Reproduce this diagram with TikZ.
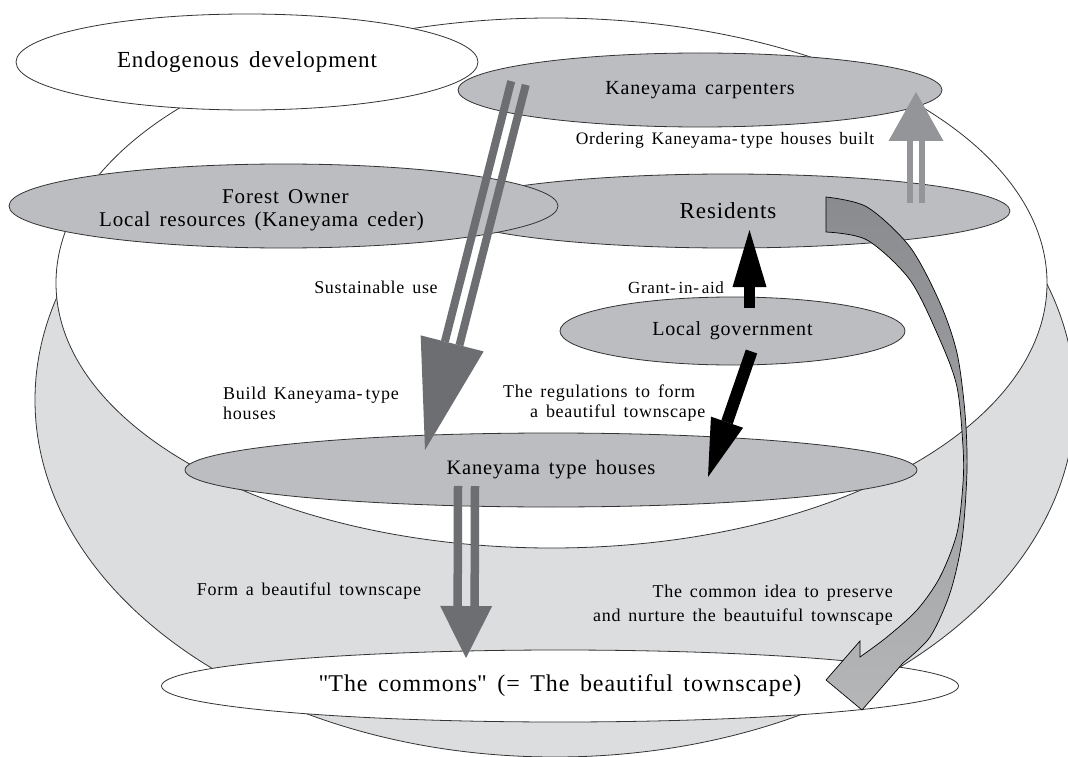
\documentclass[tikz,border=0pt]{standalone}
\usepackage{fontspec}
\setmainfont{Liberation Serif}[LetterSpace=4,WordSpace=1.5]
\usetikzlibrary{calc,shapes.geometric}
\definecolor{ellgray}{RGB}{188,189,192}
\definecolor{blobgray}{RGB}{220,221,223}
\definecolor{stripe}{RGB}{109,110,113}
\definecolor{stripelt}{RGB}{147,149,152}
\definecolor{curvtop}{RGB}{138,139,142}
\definecolor{curvbot}{RGB}{181,182,184}
% double-stripe arrow: start, tip, head length, half head width, half stripe separation, stripe width, colour
\newcommand\dblarrow[7]{%
  \coordinate (#1-base) at ($(#2)!#3!(#1)$);
  \draw[#7, line width=#6] ($(#1)!#5!90:(#2)$) -- ($(#1-base)!#5!90:(#2)$);
  \draw[#7, line width=#6] ($(#1)!#5!-90:(#2)$) -- ($(#1-base)!#5!-90:(#2)$);
  \fill[#7] ($(#1-base)!#4!90:(#2)$) -- (#2) -- ($(#1-base)!#4!-90:(#2)$) -- cycle;
}
% solid arrow: start, tip, head length, half head width, shaft width, colour
\newcommand\solidarrow[6]{%
  \coordinate (#1-base) at ($(#2)!#3!(#1)$);
  \draw[#6, line width=#5] (#1) -- (#1-base);
  \fill[#6] ($(#1-base)!#4!90:(#2)$) -- (#2) -- ($(#1-base)!#4!-90:(#2)$) -- cycle;
}
% straight double quote, bypassing the TeX ligature mapping
\newcommand\sq{\XeTeXglyph\XeTeXcharglyph"22\relax}
\tikzset{
  outl/.style={draw=black!80, line width=0.8pt},
  ell/.style={ellipse, outl, inner sep=0pt},
  grayell/.style={ell, fill=ellgray},
  whiteell/.style={ell, fill=white},
  lbl/.style={inner sep=0pt, font=\fontsize{18}{22}\selectfont},
}
\begin{document}
\begin{tikzpicture}[x=1pt,y=-1pt]
\useasboundingbox (0,0) rectangle (1068,757);
\clip (0,0) rectangle (1068,757);

% background shapes
\node[ell, fill=blobgray, minimum width=1040pt, minimum height=714pt] (blob) at (555,400) {};
\node[whiteell, minimum width=991pt, minimum height=530pt] (big) at (551.5,283) {};

% ellipses
\node[whiteell, minimum width=462pt, minimum height=96pt, font=\fontsize{23}{27}\selectfont] (endo) at (247,62) {Endogenous development};
\node[grayell, minimum width=484pt, minimum height=74pt, font=\fontsize{20}{24}\selectfont] (carp) at (700,90) {Kaneyama carpenters};
\node[grayell, minimum width=564pt, minimum height=74pt, font=\fontsize{23}{27}\selectfont] (res) at (728,211) {Residents};
\node[grayell, minimum width=549pt, minimum height=84pt] (forest) at (283.5,206) {};
\node[grayell, minimum width=345pt, minimum height=68pt, font=\fontsize{20}{24}\selectfont] (gov) at (732.5,331) {Local government};
\node[grayell, minimum width=732pt, minimum height=74pt, font=\fontsize{20.5}{24}\selectfont] (houses) at (551,470) {Kaneyama type houses};
\node[whiteell, minimum width=797pt, minimum height=72pt, font=\fontsize{24}{28}\selectfont] (commons) at (560,686) {\sq The commons\sq{} (= The beautiful townscape)};

% arrow end points
\coordinate (dA) at (518.5,83);
\coordinate (dAt) at (425,450);
\coordinate (uA) at (916,203);
\coordinate (uAt) at (916,92);
\coordinate (cA) at (466.5,486);
\coordinate (cAt) at (466,658);
\coordinate (gA) at (749.5,308);
\coordinate (gAt) at (749.5,230);
\coordinate (rA) at (751.5,351.5);
\coordinate (rAt) at (708,477);

% arrows
\dblarrow{dA}{dAt}{110pt}{32.5pt}{7.5pt}{8pt}{stripe}
\dblarrow{uA}{uAt}{49pt}{27.5pt}{6pt}{6pt}{stripelt}
\dblarrow{cA}{cAt}{52pt}{26pt}{8.5pt}{8.5pt}{stripe}
\solidarrow{gA}{gAt}{57pt}{17pt}{11pt}{black}
\solidarrow{rA}{rAt}{58pt}{17pt}{12pt}{black}

% curved arrow from Residents to the commons
\path[draw=black, line width=0.7pt, top color=curvtop, bottom color=curvbot]
  (826,232) -- (826,197)
  -- plot[smooth] coordinates {(826,197) (867,207) (910,247) (940,303) (957,353) (965,413) (967,470) (962,540) (950,593) (930,637) (903,663)}
  -- (862,710) -- (826,680) -- (860,641) -- (860,657)
  -- plot[smooth] coordinates {(860,657) (887,637) (917,610) (940,577) (957,533) (963,483) (963,447) (957,387) (940,340) (910,280) (867,240) (826,232)}
  -- cycle;

% labels
\node[lbl, font=\fontsize{17.5}{21}\selectfont] (ordering) at (725,140) {Ordering Kaneyama-\,type houses built};
\node[lbl, font=\fontsize{21}{23}\selectfont, align=left, anchor=west] (forestlbl) at (99,210) {\hspace*{123pt}Forest Owner\\Local resources (Kaneyama ceder)};
\node[lbl] (sust) at (376,287) {Sustainable use};
\node[lbl, font=\fontsize{17}{21}\selectfont] (grant) at (676,288) {Grant-\,in-\,aid};
\node[lbl, align=left, anchor=west, font=\fontsize{18}{20}\selectfont] (build) at (223,403) {Build Kaneyama-\,type\\houses};
\node[lbl, align=left, anchor=west, font=\fontsize{18}{20}\selectfont] (regs) at (503,403) {The regulations to form\\\hspace*{27pt}a beautiful townscape};
\node[lbl] (form) at (309,591) {Form a beautiful townscape};
\node[lbl, align=right, anchor=east, font=\fontsize{18}{24}\selectfont] (idea) at (893,605) {The common idea to preserve\\and nurture the beautuiful townscape};
\end{tikzpicture}
\end{document}
